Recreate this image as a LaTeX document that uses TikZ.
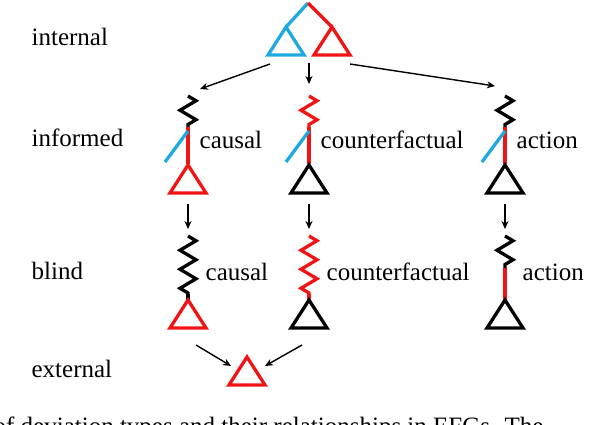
\documentclass[tikz,border=0pt]{standalone}
\usepackage{fontspec}
\setmainfont{Liberation Serif}
\usetikzlibrary{decorations.pathmorphing,arrows.meta}
\definecolor{dblue}{RGB}{30,170,225}
\definecolor{dred}{RGB}{240,20,20}
\begin{document}
\begin{tikzpicture}[x=1pt,y=-1pt,
    line width=3.3pt, line join=miter,
    spring/.style = {decorate, decoration={zigzag, amplitude=8pt, segment length=19pt}},
    flow/.style = {line width=1.4pt, -{Stealth[length=8pt,width=7pt]}},
    lbl/.style = {font=\fontsize{25}{28}\selectfont, anchor=west, inner sep=0pt}
     ]
  \useasboundingbox (0,0) rectangle (606,424);
  % row names
  \node[lbl] (internal) at (30,37) {internal};
  \node[lbl] (informed) at (30,138) {informed};
  \node[lbl] (blind) at (30,271) {blind};
  \node[lbl] (external) at (30,369) {external};
  % a triangle with its apex at #2
  \newcommand\trig[2]{\draw[#1] (#2) -- ++(-18,28) -- ++(36,0) -- cycle;}
  % internal
  \coordinate (top) at (308,3);
  \coordinate (tl) at (286,27);
  \coordinate (tr) at (332,27);
  \draw[dblue] (top) -- (tl);
  \draw[dred] (top) -- (tr);
  \trig{dblue}{tl}
  \trig{dred}{tr}
  \coordinate (a0) at (270,64);
  \coordinate (a1) at (309,63);
  \coordinate (a2) at (350,64);
  \coordinate (b0) at (200,89);
  \coordinate (b1) at (309,84);
  \coordinate (b2) at (495,86);
  \foreach \s/\e in {a0/b0,a1/b1,a2/b2} \draw[flow] (\s) -- (\e);
  % informed
  \foreach \x/\sc/\tc/\txt [count=\i] in {188/black/dred/causal, 309/dred/black/counterfactual, 505/black/black/action}{
    \draw[\sc, spring] (\x,96) -- (\x,129);
    \draw[dred] (\x,127) -- (\x,164);
    \draw[dblue] (\x,131) -- (\x-23,162);
    \trig{\tc}{\x,165}
    \node[lbl] (inf\i) at (\x+10,140) {\txt};
    \coordinate (d\i) at (\x,204);
    \coordinate (e\i) at (\x,229);
    \draw[flow] (d\i) -- (e\i);
  }
  % blind
  \foreach \x/\len/\sc/\lc/\tc/\txt [count=\i] in {188/296/black/black/dred/causal, 309/296/dred/dred/black/counterfactual, 505/270/black/dred/black/action}{
    \draw[\sc, spring] (\x,236) -- (\x,\len);
    \draw[\lc] (\x,\len-2) -- (\x,300);
    \trig{\tc}{\x,300}
    \node[lbl] (bl\i) at (\x+16,272) {\txt};
  }
  % external
  \coordinate (ext) at (247,357);
  \trig{dred}{ext}
  \coordinate (c0) at (196,345);
  \coordinate (c1) at (231,366);
  \coordinate (c2) at (302,345);
  \coordinate (c3) at (265,366);
  \draw[flow] (c0) -- (c1);
  \draw[flow] (c2) -- (c3);
  \begin{scope}
    \clip (0,0) rectangle (606,424);
    \node[lbl] (caption) at (-8,428) {of deviation types and their relationships in EFGs. The};
  \end{scope}
\end{tikzpicture}
\end{document}
